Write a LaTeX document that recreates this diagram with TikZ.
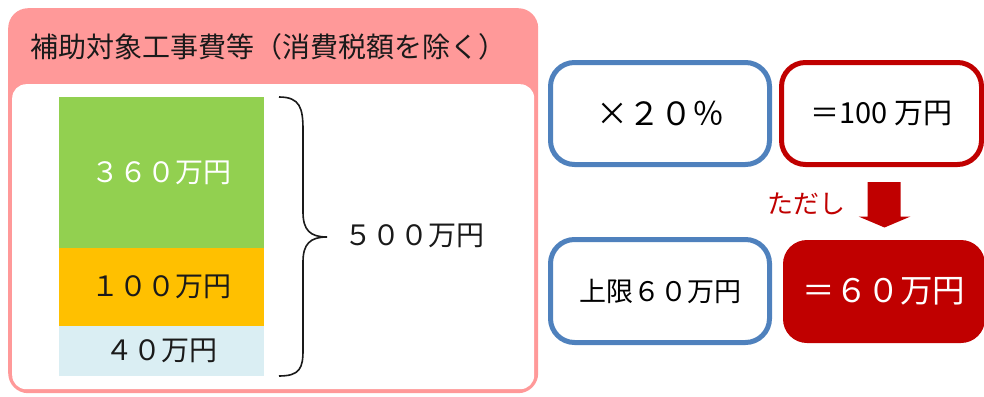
\documentclass[tikz,border=0pt]{standalone}
\usepackage{fontspec}
\setmainfont{Noto Sans CJK JP}
\definecolor{pinkc}{HTML}{FF9999}
\definecolor{bluec}{HTML}{4F81BD}
\definecolor{redc}{HTML}{C00000}
\definecolor{greenc}{HTML}{92D050}
\definecolor{orangec}{HTML}{FFC000}
\definecolor{lbluec}{HTML}{DAEEF3}
\definecolor{textc}{HTML}{1A1A1A}
\tikzset{
  bar/.style={minimum width=205pt, anchor=north west, inner sep=0pt, font=\fontsize{28}{32}\selectfont},
  bluebox/.style={draw=bluec, line width=5pt, rounded corners=24pt, fill=white, minimum width=219pt, inner sep=0pt},
  redbox/.style={draw=redc, line width=5pt, rounded corners=24pt, fill=white, minimum width=200pt, inner sep=0pt},
  redfill/.style={fill=redc, rounded corners=24pt, minimum width=202pt, inner sep=0pt},
}
\begin{document}
\begin{tikzpicture}[x=1pt,y=-1pt]
\useasboundingbox (0,0) rectangle (984,396);
% frame
\node (frame) [fill=pinkc, rounded corners=20pt, minimum width=530pt, minimum height=385pt, anchor=north west, inner sep=0pt] at (8,8) {};
\node (inner) [fill=white, rounded corners=14pt, minimum width=522pt, minimum height=305pt, anchor=north west, inner sep=0pt] at (12,84) {};
\node (title) [text=textc, font=\fontsize{28}{32}\selectfont] at (268,47) {補助対象工事費等（消費税額を除く）};
% bars
\node (g) [bar, fill=greenc, minimum height=151pt, text=white] at (59,97) {３６０万円};
\node (o) [bar, fill=orangec, minimum height=78pt, text=textc] at (59,248) {１００万円};
\node (l) [bar, fill=lbluec, minimum height=50pt, text=textc] at (59,326) {４０万円};
% brace
\draw[line width=1.6pt, textc] (279,97) .. controls (300,97) and (303,108) .. (303,130) -- (303,212)
  .. controls (303,230) and (310,237) .. (327,237)
  .. controls (310,237) and (303,244) .. (303,262) -- (303,350)
  .. controls (303,368) and (300,376) .. (279,376);
\node (total) [text=textc, font=\fontsize{28}{32}\selectfont] at (414,236) {５００万円};
% right boxes
\node (rate) [bluebox, minimum height=102pt, font=\fontsize{32}{36}\selectfont] at (660,113.5) {×２０％};
\node (res) [redbox, minimum height=102pt, font=\fontsize{29}{33}\selectfont] at (881.5,113.5) {＝100 万円};
\node (cap) [bluebox, minimum height=103pt, font=\fontsize{27}{31}\selectfont] at (660,291) {上限６０万円};
\node (final) [redfill, minimum height=103pt, text=white, font=\fontsize{32.5}{37}\selectfont] at (884,291.5) {＝６０万円};
\node (tadashi) [text=redc, font=\fontsize{26}{30}\selectfont] at (806,204) {ただし};
% arrow
\fill[redc] (867.5,182) -- (900.5,182) -- (900.5,216.5) -- (910.5,216.5) -- (884.5,227.5) -- (858.5,216.5) -- (867.5,216.5) -- cycle;
\end{tikzpicture}
\end{document}
